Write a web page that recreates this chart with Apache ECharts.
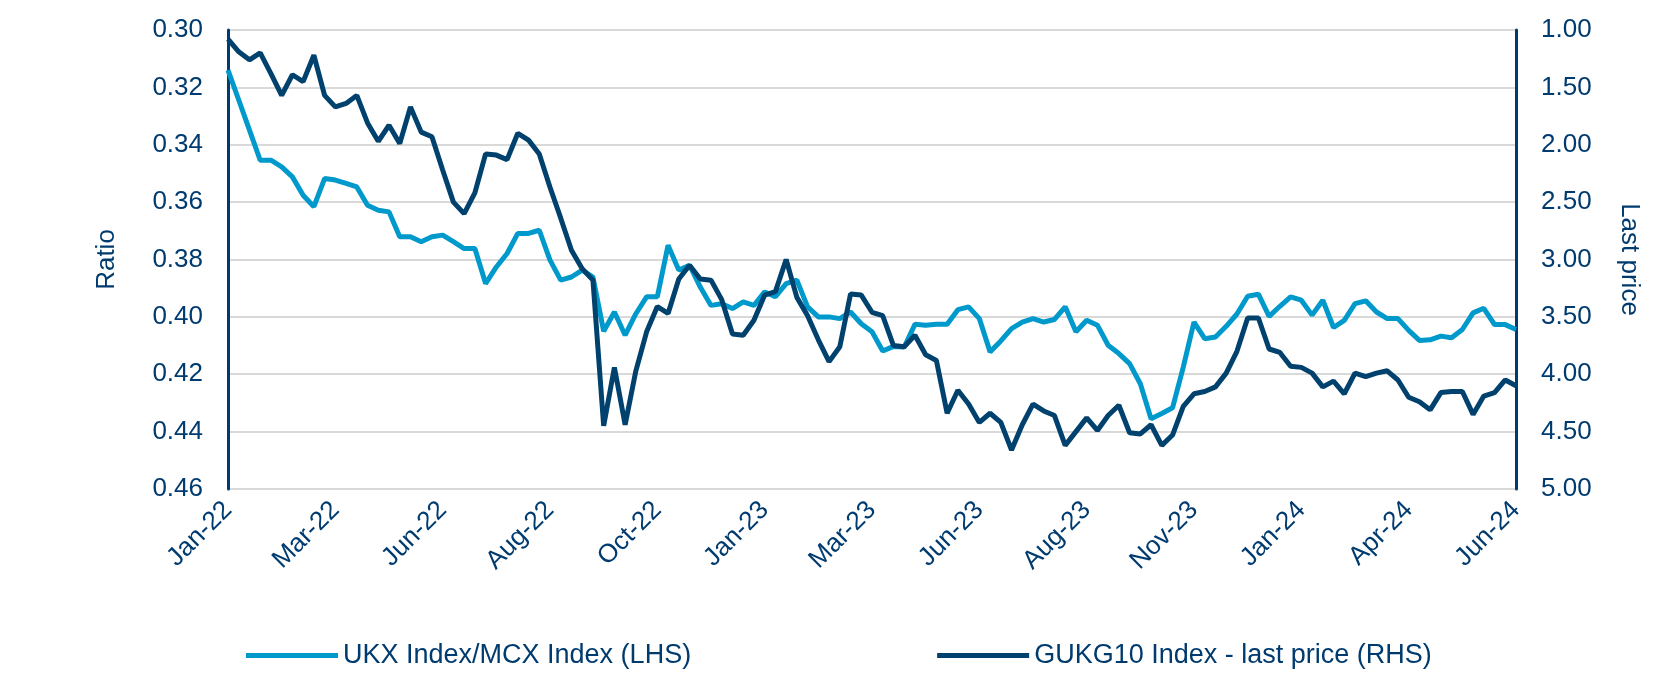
<!DOCTYPE html>
<html>
<head>
<meta charset="utf-8">
<script src="https://cdn.jsdelivr.net/npm/echarts@6/dist/echarts.min.js"></script>
<style>
html,body{margin:0;padding:0;background:#fff;}
#chart{width:1672px;height:692px;}
</style>
</head>
<body>
<div id="chart"></div>
<script>
// Tick labels shown every 10 points along the category axis
const tickLabels = ['Jan-22','Mar-22','Jun-22','Aug-22','Oct-22','Jan-23','Mar-23','Jun-23','Aug-23','Nov-23','Jan-24','Apr-24','Jun-24'];
const pointsPerTick = 10;

// UKX Index / MCX Index ratio (LHS)
const ratioSeries = [
0.314,0.3244,0.3349,0.3454,0.3454,0.3477,0.3512,0.3576,0.3616,0.3518,
0.3523,0.3535,0.3547,0.3611,0.3628,0.3634,0.3721,0.3721,0.3738,0.3721,
0.3715,0.3738,0.3762,0.3762,0.3884,0.3826,0.3779,0.3709,0.3709,0.3698,
0.3802,0.3872,0.3861,0.3837,0.3861,0.405,0.3983,0.4064,0.3989,0.393,
0.393,0.375,0.3837,0.382,0.3896,0.396,0.3954,0.3971,0.3948,0.396,
0.3913,0.393,0.3884,0.3872,0.3965,0.4,0.4,0.4006,0.3983,0.4024,
0.4052,0.4119,0.4103,0.4105,0.4026,0.4029,0.4026,0.4026,0.3975,0.3965,
0.4006,0.4122,0.4084,0.4041,0.4018,0.4006,0.4018,0.4009,0.3965,0.4052,
0.4012,0.4029,0.4099,0.4128,0.4163,0.4233,0.4355,0.4337,0.4317,0.4175,
0.4018,0.4076,0.407,0.4033,0.399,0.3928,0.3921,0.3998,0.3963,0.393,
0.3942,0.3994,0.3942,0.4037,0.4012,0.3954,0.3944,0.3983,0.4006,0.4006,
0.4047,0.4082,0.408,0.4067,0.4073,0.4044,0.3986,0.397,0.4027,0.4027,
0.4044
];

// GUKG10 Index - last price (RHS)
const yieldSeries = [
1.08,1.19,1.26,1.20,1.38,1.57,1.39,1.45,1.22,1.57,
1.67,1.64,1.57,1.81,1.97,1.83,1.99,1.67,1.89,1.93,
2.22,2.50,2.60,2.42,2.08,2.09,2.13,1.90,1.96,2.08,
2.37,2.64,2.92,3.08,3.18,4.45,3.94,4.44,3.97,3.63,
3.41,3.47,3.17,3.05,3.17,3.18,3.35,3.65,3.66,3.53,
3.31,3.28,3.00,3.33,3.49,3.70,3.89,3.76,3.30,3.31,
3.46,3.49,3.75,3.76,3.66,3.83,3.88,4.34,4.14,4.26,
4.42,4.34,4.42,4.66,4.44,4.26,4.32,4.36,4.62,4.50,
4.38,4.49,4.36,4.27,4.51,4.52,4.44,4.62,4.53,4.28,
4.17,4.15,4.11,3.99,3.80,3.51,3.51,3.78,3.81,3.93,
3.94,3.99,4.11,4.06,4.17,3.99,4.02,3.99,3.97,4.05,
4.20,4.24,4.31,4.16,4.15,4.15,4.35,4.19,4.16,4.05,
4.10
];

const seriesNames = ['UKX Index/MCX Index (LHS)', 'GUKG10 Index - last price (RHS)'];

const categories = ratioSeries.map((_, i) => String(i));

const navy = '#003B6F';
const lightBlue = '#0099CC';
const darkBlue = '#00416E';
const fontFam = '"Liberation Sans", Arial, sans-serif';
const fs = 26;

const chart = echarts.init(document.getElementById('chart'), null, {renderer: 'canvas'});
chart.setOption({
  animation: false,
  backgroundColor: '#ffffff',
  textStyle: {fontFamily: fontFam, color: navy},
  grid: {left: 228, right: 156, top: 30, bottom: 203, containLabel: false},
  legend: {
    left: 241, top: 637,
    itemWidth: 92, itemHeight: 5, itemGap: 246,
    icon: 'rect',
    textStyle: {fontSize: 27, color: navy, fontFamily: fontFam, padding: [0,0,0,0]},
    data: seriesNames
  },
  xAxis: {
    type: 'category',
    data: categories,
    boundaryGap: false,
    axisLine: {show: false},
    axisTick: {show: false},
    splitLine: {show: false},
    axisLabel: {
      interval: 0,
      rotate: 45,
      margin: 17,
      fontSize: fs,
      color: navy,
      fontFamily: fontFam,
      formatter: function (v, idx) {
        return idx % pointsPerTick === 0 ? tickLabels[idx / pointsPerTick] : '';
      }
    }
  },
  yAxis: [
    {
      type: 'value', inverse: true, min: 0.30, max: 0.46, interval: 0.02,
      name: 'Ratio', nameLocation: 'middle', nameGap: 108, nameRotate: 90,
      nameTextStyle: {fontSize: fs, color: navy, fontFamily: fontFam},
      axisLine: {show: true, lineStyle: {color: navy, width: 3}},
      axisTick: {show: false},
      splitLine: {show: true, lineStyle: {color: '#D9D9D9', width: 2}},
      axisLabel: {fontSize: fs, color: navy, margin: 25, fontFamily: fontFam,
        formatter: v => v.toFixed(2)}
    },
    {
      type: 'value', inverse: true, min: 1, max: 5, interval: 0.5, position: 'right',
      name: 'Last price', nameLocation: 'middle', nameGap: 100, nameRotate: -90,
      nameTextStyle: {fontSize: fs, color: navy, fontFamily: fontFam},
      axisLine: {show: true, lineStyle: {color: navy, width: 3}},
      axisTick: {show: false},
      splitLine: {show: false},
      axisLabel: {fontSize: fs, color: navy, margin: 25, fontFamily: fontFam,
        formatter: v => v.toFixed(2)}
    }
  ],
  series: [
    {
      name: seriesNames[0], type: 'line', yAxisIndex: 0, data: ratioSeries,
      showSymbol: false, symbol: 'none', color: lightBlue,
      lineStyle: {color: lightBlue, width: 5}, z: 2
    },
    {
      name: seriesNames[1], type: 'line', yAxisIndex: 1, data: yieldSeries,
      showSymbol: false, symbol: 'none', color: darkBlue,
      lineStyle: {color: darkBlue, width: 5}, z: 3
    }
  ]
});
</script>
</body>
</html>
